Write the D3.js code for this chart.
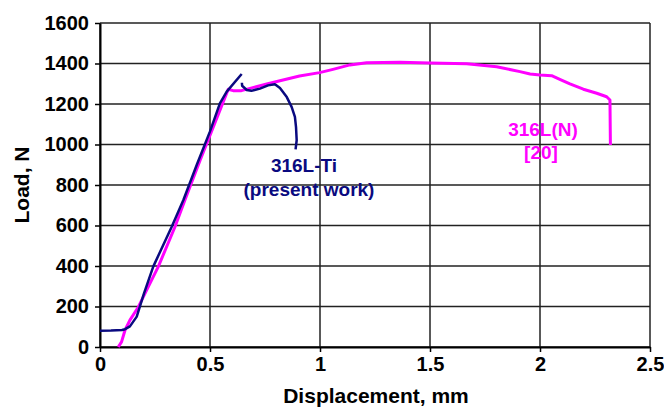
<!DOCTYPE html>
<html>
<head>
<meta charset="utf-8">
<script src="https://cdn.jsdelivr.net/npm/d3@7"></script>
<style>
  body { margin: 0; background: #fff; }
  text { font-family: "Liberation Sans", Arial, sans-serif; font-weight: bold; }
</style>
</head>
<body>
<div id="chart"></div>
<script>
// displacement (mm), load (N)
var tiDisp = [0, 0.05, 0.1, 0.114, 0.136, 0.167, 0.2, 0.242, 0.326, 0.379, 0.44, 0.5, 0.545, 0.576, 0.644,
    null, 0.645, 0.646, 0.667, 0.688, 0.727, 0.764, 0.795, 0.818, 0.849, 0.871, 0.886, 0.891, 0.894, 0.889];
var tiLoad = [80, 81, 84, 88, 102, 150, 265, 397, 594, 726, 900, 1065, 1203, 1261, 1348,
    null, 1305, 1290, 1269, 1265, 1276, 1292, 1298, 1279, 1234, 1186, 1136, 1086, 1021, 976];

var nDisp = [0.083, 0.098, 0.114, 0.136, 0.175, 0.212, 0.265, 0.341, 0.386, 0.455, 0.52, 0.583, 0.605, 0.643,
    0.682, 0.758, 0.818, 0.907, 0.998, 1.059, 1.136, 1.212, 1.364, 1.5, 1.667, 1.803, 1.909, 1.955, 2.0,
    2.053, 2.09, 2.136, 2.197, 2.258, 2.303, 2.318, 2.32];
var nLoad = [0, 25, 84, 133, 199, 281, 397, 594, 726, 923, 1100, 1273, 1266, 1266,
    1277, 1299, 1315, 1338, 1355, 1371, 1393, 1404, 1406, 1402, 1399, 1384, 1360, 1348, 1343,
    1340, 1322, 1299, 1273, 1253, 1236, 1220, 998];

var xTicks = [0, 0.5, 1, 1.5, 2, 2.5];
var yTicks = [0, 200, 400, 600, 800, 1000, 1200, 1400, 1600];

var svg = d3.select("#chart").append("svg").attr("width", 664).attr("height", 407);

var margin = { top: 23, right: 14, bottom: 60, left: 100 };
var width = +svg.attr("width") - margin.left - margin.right;
var height = +svg.attr("height") - margin.top - margin.bottom;
var g = svg.append("g").attr("transform", "translate(" + margin.left + "," + margin.top + ")");

var x = d3.scaleLinear().domain([0, 2.5]).range([0, width]);
var y = d3.scaleLinear().domain([0, 1600]).range([height, 0]);

// grid
g.selectAll(".hgrid").data(yTicks).enter().append("line")
    .attr("x1", 0).attr("x2", width)
    .attr("y1", function (d) { return y(d); }).attr("y2", function (d) { return y(d); })
    .attr("stroke", "#222").attr("stroke-width", 1.5);
g.selectAll(".vgrid").data(xTicks).enter().append("line")
    .attr("y1", 0).attr("y2", height)
    .attr("x1", function (d) { return x(d); }).attr("x2", function (d) { return x(d); })
    .attr("stroke", "#222").attr("stroke-width", 1.5);

var xAxis = d3.axisBottom(x).tickValues(xTicks).tickSize(5).tickSizeOuter(0).tickPadding(5)
    .tickFormat(function (d) { return String(d); });
var yAxis = d3.axisLeft(y).tickValues(yTicks).tickSize(5).tickSizeOuter(0).tickPadding(6)
    .tickFormat(d3.format("d"));

var xg = g.append("g").attr("transform", "translate(0," + height + ")").call(xAxis);
var yg = g.append("g").call(yAxis);
[xg, yg].forEach(function (a) {
    a.select(".domain").attr("stroke", "#000").attr("stroke-width", 2);
    a.selectAll(".tick line").attr("stroke", "#000").attr("stroke-width", 1.5);
    a.selectAll(".tick text").attr("fill", "#000").style("font-size", "20px")
        .style("font-family", "'Liberation Sans', Arial, sans-serif").style("font-weight", "bold");
});

var line = d3.line()
    .defined(function (d) { return d[0] !== null; })
    .x(function (d) { return x(d[0]); })
    .y(function (d) { return y(d[1]); });

var nData = nDisp.map(function (d, i) { return [d, nLoad[i]]; });
var tiData = tiDisp.map(function (d, i) { return [d, tiLoad[i]]; });

g.append("path").datum(nData).attr("d", line)
    .attr("fill", "none").attr("stroke", "#ff00ff").attr("stroke-width", 3).attr("stroke-linejoin", "round");
g.append("path").datum(tiData).attr("d", line)
    .attr("fill", "none").attr("stroke", "#0a0a80").attr("stroke-width", 2.5).attr("stroke-linejoin", "round");

// annotations
svg.append("text").attr("x", 304).attr("y", 172).attr("text-anchor", "middle")
    .attr("fill", "#0a0a80").style("font-size", "19px").text("316L-Ti");
svg.append("text").attr("x", 309).attr("y", 196).attr("text-anchor", "middle")
    .attr("fill", "#0a0a80").style("font-size", "19px").text("(present work)");
svg.append("text").attr("x", 543).attr("y", 136).attr("text-anchor", "middle")
    .attr("fill", "#ff00ff").style("font-size", "19px").text("316L(N)");
svg.append("text").attr("x", 541).attr("y", 159).attr("text-anchor", "middle")
    .attr("fill", "#ff00ff").style("font-size", "19px").text("[20]");

// axis titles
svg.append("text").attr("x", 376).attr("y", 403).attr("text-anchor", "middle")
    .attr("fill", "#000").style("font-size", "21px").text("Displacement, mm");
svg.append("text").attr("transform", "translate(29,185) rotate(-90)").attr("text-anchor", "middle")
    .attr("fill", "#000").style("font-size", "21px").text("Load, N");
</script>
</body>
</html>
